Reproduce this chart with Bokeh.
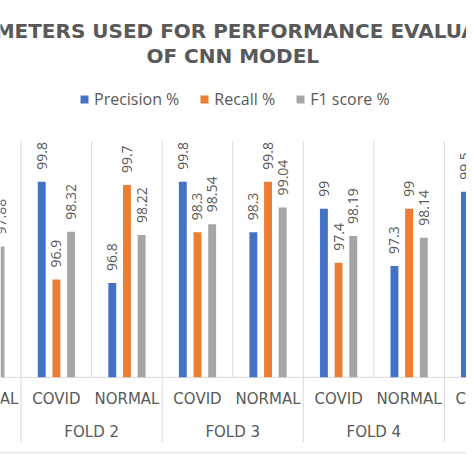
import math
from bokeh.plotting import figure
from bokeh.models import ColumnDataSource, Range1d, Legend, LegendItem
from bokeh.transform import dodge
from bokeh.core.properties import value
from bokeh.embed import file_html
from bokeh.resources import INLINE

# ---------------- data (NaN = outside the visible crop) ----------------
NAN = float("nan")
folds = ["FOLD 1", "FOLD 2", "FOLD 3", "FOLD 4", "FOLD 5"]
classes = ["COVID", "NORMAL"]
precision = [NAN, NAN, 99.8, 96.8, 99.8, 98.3, 99.0, 97.3, 99.5, NAN]
recall    = [NAN, NAN, 96.9, 99.7, 98.3, 99.8, 97.4, 99.0, NAN, NAN]
f1_score  = [NAN, 97.88, 98.32, 98.22, 98.54, 99.04, 98.19, 98.14, NAN, NAN]
series_names = ["Precision %", "Recall %", "F1 score %"]
title_lines = ["PARAMETERS USED FOR PERFORMANCE EVALUATION", "OF CNN MODEL"]

# ---------------- styling / layout ----------------
COLORS = ["#4472C4", "#ED7D31", "#A5A5A5"]
TEXT = "#595959"
GRID = "#D9D9D9"
W = H = 466
S = W / 474.0                      # scale of the reference into the figure
Y_MIN, Y_MAX = 94, 101             # value axis of the original chart
PXU = 34.3 * S                     # pixels per value unit
BASE_PX = 383.3 * S                # baseline, px from figure top
CAT_PX = 71.75 * S                 # pixels per category
FIRST_BOUND_PX = 21.0 * S          # px of boundary between category 1 and 2

y_start = Y_MIN - (H - BASE_PX) / PXU
y_end = Y_MIN + BASE_PX / PXU
x_start = 2 - FIRST_BOUND_PX / CAT_PX
x_end = x_start + W / CAT_PX

cat_labels = [c for f in folds for c in classes]
n = len(cat_labels)
xs = [i + 0.5 for i in range(n)]

src = ColumnDataSource(dict(x=xs, p=precision, r=recall, f=f1_score))

p = figure(width=W, height=H, output_backend="svg", toolbar_location=None,
           x_range=Range1d(x_start, x_end), y_range=Range1d(y_start, y_end),
           x_axis_location=None, y_axis_location=None, min_border=0,
           background_fill_color="white", border_fill_color="white")
p.outline_line_color = None
p.xgrid.visible = False
p.ygrid.visible = False

# vertical gridlines at category boundaries
bounds = list(range(0, n + 1))
p.segment(x0=bounds, y0=[Y_MIN] * len(bounds), x1=bounds, y1=[Y_MAX] * len(bounds),
          line_color=GRID, line_width=1)
# baseline
p.segment(x0=[0], y0=[Y_MIN], x1=[n], y1=[Y_MIN], line_color=GRID, line_width=1)
# fold separators below the axis
fb = list(range(0, n + 1, 2))
sep_bottom = Y_MIN - 65.7 * S / PXU
p.segment(x0=fb, y0=[Y_MIN] * len(fb), x1=fb, y1=[sep_bottom] * len(fb),
          line_color=GRID, line_width=1)
# chart-area bottom border
border_y = Y_MIN - 76.7 * S / PXU
p.segment(x0=[x_start - 1], y0=[border_y], x1=[x_end + 1], y1=[border_y],
          line_color=GRID, line_width=1)

# bars
offsets = [-0.208, 0.0, 0.208]
fields = ["p", "r", "f"]
renderers = []
for fld, off, col in zip(fields, offsets, COLORS):
    r = p.vbar(x=dodge("x", off), top=fld, bottom=Y_MIN, width=0.112, source=src,
               fill_color=col, line_color=None)
    renderers.append(r)

# data labels
for vals, off in zip([precision, recall, f1_score], offsets):
    lx, ly, lt = [], [], []
    for x, v in zip(xs, vals):
        if not math.isnan(v):
            lx.append(x + off)
            ly.append(v)
            lt.append(f"{v:g}")
    p.text(x=lx, y=ly, text=lt, angle=math.pi / 2, text_align="left",
           text_baseline="middle", y_offset=-12,
           text_font=value("Open Sans"), text_font_size="14px", text_color=TEXT)

# category labels
p.text(x=xs, y=[Y_MIN] * n, text=cat_labels, text_align="center",
       text_baseline="middle", y_offset=21.7 * S, text_font=value("DejaVu Sans"),
       text_font_size="15px", text_color=TEXT)
# fold labels
fx = [2 * i + 1 for i in range(len(folds))]
p.text(x=fx, y=[Y_MIN] * len(folds), text=folds, text_align="center",
       text_baseline="middle", y_offset=55.4 * S, text_font=value("DejaVu Sans"),
       text_font_size="15px", text_color=TEXT)

# title (centered over the 10 categories)
center = n / 2
p.text(x=[center, center], y=[y_end, y_end], text=title_lines,
       y_offset=[31 * S, 56.5 * S], text_align="center", text_baseline="middle",
       text_font=value("DejaVu Sans"), text_font_style="bold",
       text_font_size="20px", text_color=TEXT)

leg_item_h = 20
legend = Legend(items=[LegendItem(label=nm, renderers=[r]) for nm, r in zip(series_names, renderers)],
                orientation="horizontal",
                location=(round(80 * S), round(H - 102 * S - leg_item_h / 2)),
                glyph_width=10, glyph_height=10,
                label_standoff=5, spacing=20, padding=0, margin=0, label_height=10,
                border_line_color=None, background_fill_alpha=0,
                label_text_font="Open Sans", label_text_font_size="16px",
                label_text_color=TEXT)
p.add_layout(legend)

open("out.html", "w").write(file_html(p, INLINE))
